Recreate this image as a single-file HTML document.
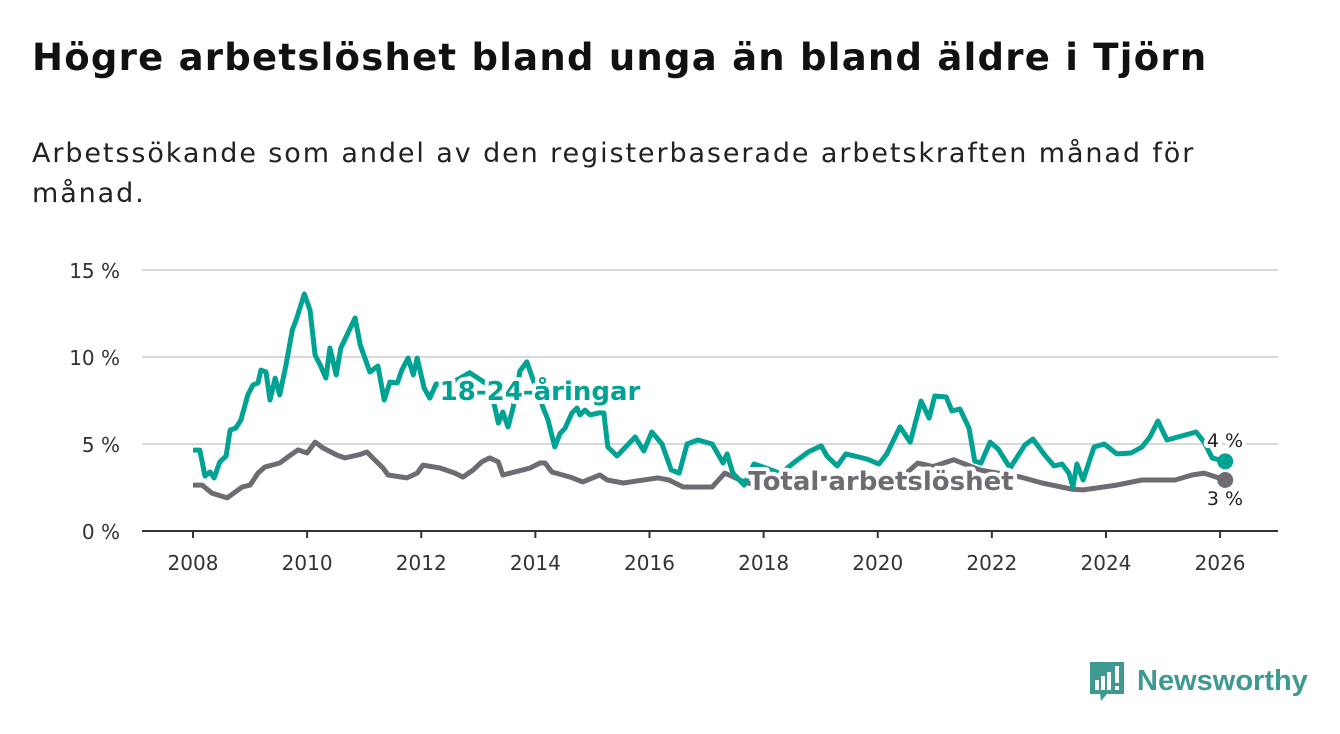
<!DOCTYPE html>
<html><head><meta charset="utf-8">
<style>
body{margin:0;background:#fff;width:1340px;height:734px;overflow:hidden;font-family:"DejaVu Sans","Liberation Sans",sans-serif;}
h1{position:absolute;left:32px;top:36px;margin:0;font-size:37px;font-weight:bold;color:#111;letter-spacing:1.25px;white-space:nowrap;}
p{position:absolute;left:32px;top:134px;margin:0;font-size:27px;line-height:40px;color:#222;width:1280px;letter-spacing:1.9px;}
svg{position:absolute;left:0;top:0;}
</style></head><body>
<h1>Högre arbetslöshet bland unga än bland äldre i Tjörn</h1>
<p>Arbetssökande som andel av den registerbaserade arbetskraften månad för<br>månad.</p>
<svg id="chart" width="1340" height="734"></svg>
<script>
const yTicks=[0,5,10,15];
const xTicks=[2008,2010,2012,2014,2016,2018,2020,2022,2024,2026];
const youthDates=[2008.00,2008.12,2008.21,2008.30,2008.37,2008.47,2008.58,2008.65,2008.75,2008.84,2008.96,2009.05,2009.14,2009.19,2009.28,2009.35,2009.44,2009.52,2009.63,2009.74,2009.82,2009.95,2010.05,2010.14,2010.23,2010.33,2010.40,2010.51,2010.59,2010.84,2010.93,2011.10,2011.24,2011.35,2011.45,2011.58,2011.66,2011.77,2011.86,2011.93,2012.05,2012.15,2012.26,2012.47,2012.85,2013.17,2013.29,2013.35,2013.43,2013.52,2013.61,2013.73,2013.85,2013.96,2014.13,2014.22,2014.34,2014.43,2014.52,2014.64,2014.73,2014.78,2014.87,2014.96,2015.13,2015.20,2015.27,2015.43,2015.75,2015.90,2016.04,2016.22,2016.38,2016.52,2016.66,2016.85,2017.10,2017.29,2017.36,2017.46,2017.66,2017.83,2018.06,2018.3,2018.50,2018.78,2019.01,2019.11,2019.29,2019.44,2019.81,2020.02,2020.16,2020.39,2020.57,2020.76,2020.90,2021.00,2021.20,2021.30,2021.44,2021.60,2021.70,2021.81,2021.97,2022.11,2022.32,2022.58,2022.72,2022.91,2023.09,2023.23,2023.35,2023.42,2023.49,2023.60,2023.79,2023.97,2024.19,2024.44,2024.63,2024.77,2024.91,2025.07,2025.58,2025.72,2025.86,2026.09];
const youthValues=[4.65,4.65,3.16,3.39,3.05,3.97,4.31,5.80,5.92,6.38,7.82,8.39,8.51,9.25,9.14,7.53,8.79,7.82,9.54,11.55,12.24,13.62,12.70,10.11,9.54,8.79,10.52,8.97,10.52,12.24,10.69,9.14,9.48,7.53,8.56,8.51,9.25,9.94,8.97,9.94,8.22,7.64,8.45,8.39,9.1,8.4,7.13,6.2,6.84,5.98,7.1,9.2,9.72,8.7,7.13,6.4,4.83,5.6,5.9,6.78,7.07,6.67,6.95,6.67,6.8,6.78,4.83,4.31,5.40,4.60,5.69,5.00,3.51,3.33,5.00,5.23,5.00,3.91,4.43,3.33,2.64,3.85,3.6,3.3,3.85,4.54,4.89,4.31,3.74,4.43,4.14,3.85,4.43,5.98,5.11,7.47,6.49,7.76,7.70,6.90,7.01,5.92,4.02,3.91,5.11,4.71,3.62,4.94,5.29,4.43,3.74,3.85,3.33,2.53,3.85,2.93,4.83,5.00,4.43,4.48,4.83,5.40,6.32,5.23,5.69,5.11,4.20,4.0];
const totalDates=[2008.00,2008.16,2008.33,2008.60,2008.86,2009.00,2009.14,2009.26,2009.52,2009.66,2009.84,2010.00,2010.14,2010.28,2010.52,2010.66,2010.93,2011.05,2011.15,2011.33,2011.42,2011.75,2011.93,2012.03,2012.33,2012.59,2012.73,2012.91,2013.06,2013.20,2013.35,2013.43,2013.78,2013.91,2014.08,2014.17,2014.29,2014.61,2014.83,2015.13,2015.26,2015.54,2016.15,2016.34,2016.59,2017.10,2017.32,2017.66,2018.0,2018.5,2019.0,2019.5,2020.0,2020.39,2020.7,2020.97,2021.33,2021.8,2022.51,2022.88,2023.39,2023.60,2024.19,2024.63,2025.21,2025.51,2025.72,2026.09];
const totalValues=[2.64,2.64,2.18,1.90,2.53,2.64,3.33,3.68,3.91,4.25,4.66,4.48,5.11,4.77,4.37,4.20,4.40,4.54,4.20,3.62,3.22,3.05,3.33,3.79,3.62,3.33,3.10,3.51,3.97,4.20,3.97,3.22,3.51,3.62,3.91,3.91,3.39,3.10,2.82,3.22,2.93,2.76,3.05,2.93,2.53,2.53,3.33,2.82,2.53,2.8,3.0,3.2,3.0,3.0,3.9,3.7,4.1,3.5,3.1,2.76,2.41,2.36,2.64,2.93,2.93,3.22,3.33,2.93,2.93];
const NS='http://www.w3.org/2000/svg';
const svg=document.getElementById('chart');
const X=y=>193+(y-2008)*57.06;
const Y=v=>531-v*17.4;
function mk(t,a,p){const e=document.createElementNS(NS,t);for(const k in a)e.setAttribute(k,a[k]);(p||svg).appendChild(e);return e;}
yTicks.forEach(v=>{
  if(v>0){const g=mk('line',{x1:142,x2:1278,y1:Y(v),y2:Y(v),stroke:'#d9d9d9','stroke-width':2});
  
  }
  const t=mk('text',{x:120,y:Y(v)+8,'text-anchor':'end','font-size':20,fill:'#333'});t.textContent=v+' %';
  
  
});
const ax=mk('line',{x1:142,x2:1278,y1:531,y2:531,stroke:'#333','stroke-width':2});


xTicks.forEach(y=>{
  mk('line',{x1:X(y),x2:X(y),y1:531,y2:538,stroke:'#333','stroke-width':2});
  const t=mk('text',{x:X(y),y:570,'text-anchor':'middle','font-size':20,fill:'#333'});t.textContent=y;
  
  
});
function line(d,v,c,name){
  const p=mk('path',{d:d.map((x,i)=>(i?'L':'M')+X(x).toFixed(1)+','+Y(v[i]).toFixed(1)).join(''),fill:'none',stroke:c,'stroke-width':5,'stroke-linejoin':'round'});
  
  
}
line(totalDates,totalValues,'#6e6c72','total-line');
line(youthDates,youthValues,'#00a294','youth-line');
const d1=mk('circle',{cx:X(youthDates[youthDates.length-1]),cy:Y(youthValues[youthValues.length-1]),r:8,fill:'#00a294'});


const d2=mk('circle',{cx:X(totalDates[totalDates.length-1]),cy:Y(totalValues[totalValues.length-1]),r:8,fill:'#6e6c72'});


function lab(x,y,txt,c,name,size,w,halo){
  const t=mk('text',{x:x,y:y,'font-size':size,'font-weight':w,fill:c,'text-anchor':'middle'});
  if(halo){t.setAttribute('stroke','#fff');t.setAttribute('stroke-width',8);t.setAttribute('paint-order','stroke');t.setAttribute('stroke-linejoin','round');}
  t.textContent=txt;
  
  
}
lab(540,400,'18-24-åringar','#00a294','youth-label',26,'bold',true);
lab(881,490,'Total arbetslöshet','#6e6c72','total-label',26,'bold',true);
lab(1225,447,'4 %','#222','youth-end-value',19,'normal',true);
lab(1225,505,'3 %','#222','total-end-value',19,'normal',true);
const lg=mk('g',{});


mk('path',{d:'M1090,662 h34 v32 h-17 l-6,7 l-1,-7 h-10 z',fill:'#3e9a91'},lg);
[[1095,680,4,10],[1101,676,4,14],[1107,672,4,18]].forEach(r=>mk('rect',{x:r[0],y:r[1],width:r[2],height:r[3],fill:'#fff'},lg));
mk('rect',{x:1115,y:666,width:4,height:17,fill:'#fff'},lg);
mk('rect',{x:1115,y:686,width:4,height:4,fill:'#fff'},lg);
const lt=mk('text',{x:1137,y:690,'font-size':29,'font-weight':'bold',fill:'#3e9a91','font-family':'Liberation Sans, sans-serif'},lg);lt.textContent='Newsworthy';
</script>
</body></html>
